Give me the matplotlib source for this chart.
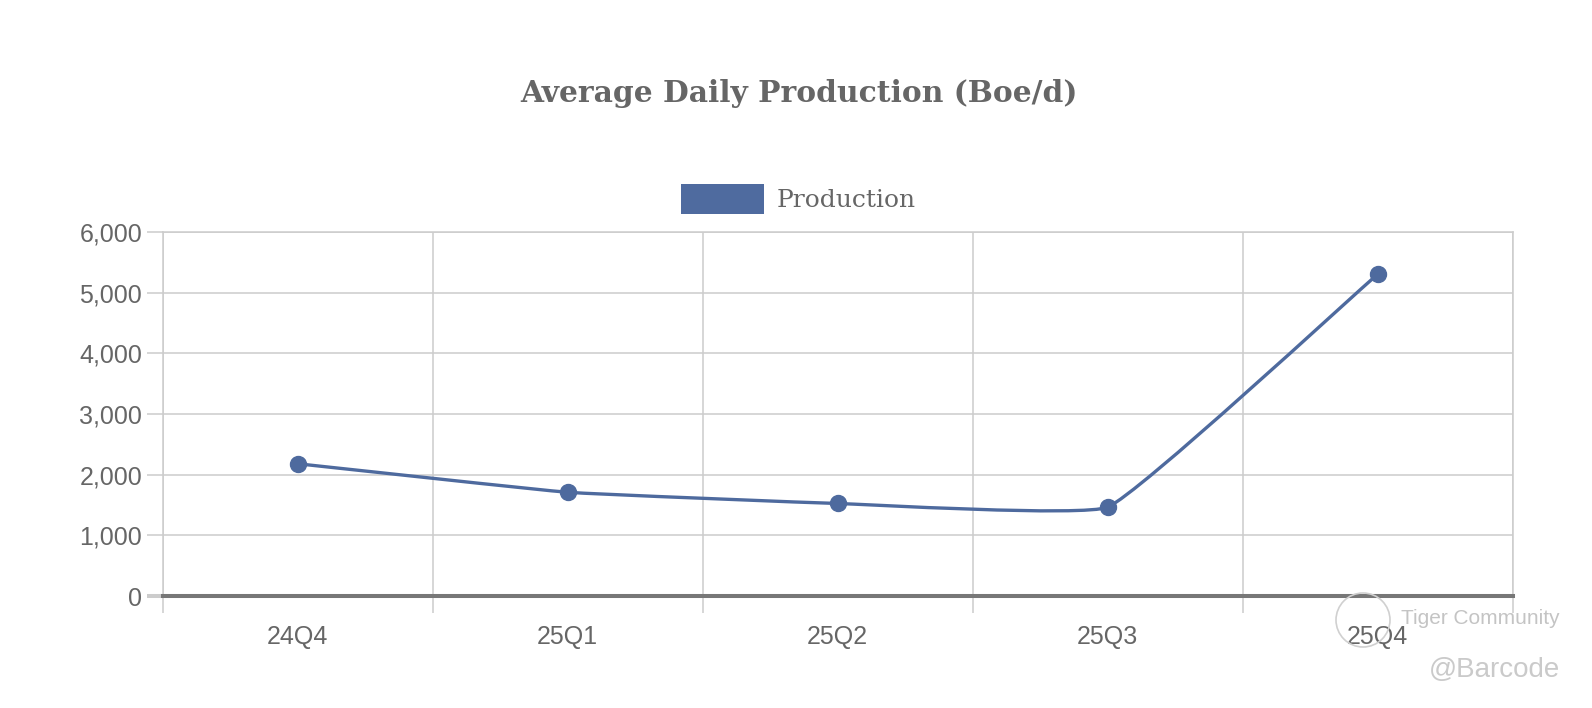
import matplotlib
matplotlib.use("Agg")
import matplotlib.pyplot as plt
from matplotlib.path import Path
from matplotlib.patches import PathPatch, Patch, Ellipse
from matplotlib.ticker import FuncFormatter

# data
quarters = ["24Q4", "25Q1", "25Q2", "25Q3", "25Q4"]
production = [2180, 1710, 1525, 1465, 5305]

LINE_COLOR = "#4e6a9e"
TEXT_COLOR = "#666666"
GRID_COLOR = "#cccccc"

W, H = 1592, 708
fig = plt.figure(figsize=(W / 100, H / 100), dpi=100)
# plot area in pixels: x 162.7 -> 1512.7, y 232 -> 596
ax = fig.add_axes([162.7 / W, 1 - 596 / H, 1350 / W, 364 / H])


def spline_path(xs, ys, sx, sy, tension=0.1):
    # cardinal-ish spline, control points worked out in pixel space
    pts = [(x * sx, y * sy) for x, y in zip(xs, ys)]
    n = len(pts)
    cps = []
    for i in range(n):
        cur = pts[i]
        prev = pts[i - 1] if i > 0 else cur
        nxt = pts[i + 1] if i < n - 1 else cur
        d01 = ((cur[0] - prev[0]) ** 2 + (cur[1] - prev[1]) ** 2) ** 0.5
        d12 = ((nxt[0] - cur[0]) ** 2 + (nxt[1] - cur[1]) ** 2) ** 0.5
        tot = d01 + d12
        s01 = d01 / tot if tot else 0
        s12 = d12 / tot if tot else 0
        fa, fb = tension * s01, tension * s12
        dx, dy = nxt[0] - prev[0], nxt[1] - prev[1]
        cps.append(((cur[0] - fa * dx, cur[1] - fa * dy),
                    (cur[0] + fb * dx, cur[1] + fb * dy)))
    verts = [pts[0]]
    codes = [Path.MOVETO]
    for i in range(1, n):
        verts += [cps[i - 1][1], cps[i][0], pts[i]]
        codes += [Path.CURVE4] * 3
    return Path([(a / sx, b / sy) for a, b in verts], codes)


xpos = list(range(len(quarters)))
path = spline_path(xpos, production, 270.0, 364 / 6000)
ax.add_patch(PathPatch(path, facecolor="none", edgecolor=LINE_COLOR, lw=2.4,
                       capstyle="round", joinstyle="round", zorder=4))
ax.plot(xpos, production, linestyle="none", marker="o", markersize=11.5,
        color=LINE_COLOR, zorder=5, clip_on=False)

ax.set_xlim(-0.5, len(quarters) - 0.5)
ax.set_ylim(0, 6000)

# x axis: ticks on band boundaries, labels at centers
ax.set_xticks([i - 0.5 for i in range(len(quarters) + 1)])
ax.set_xticklabels([])
ax.set_xticks(xpos, minor=True)
ax.set_xticklabels(quarters, minor=True)
ax.tick_params(axis="x", which="major", length=12.3, width=1.1, color=GRID_COLOR)
ax.tick_params(axis="x", which="minor", length=0, pad=21, labelsize=18,
               labelcolor=TEXT_COLOR)

ax.set_yticks(range(0, 6001, 1000))
ax.yaxis.set_major_formatter(FuncFormatter(lambda v, p: f"{int(v):,}"))
ax.tick_params(axis="y", length=11.5, width=1.1, color=GRID_COLOR, pad=3.3,
               labelsize=18, labelcolor=TEXT_COLOR)
zero_tick = ax.yaxis.get_major_ticks()[0]
zero_tick.tick1line.set_color("#777777")
zero_tick.tick1line.set_markeredgewidth(2.9)
for lab in ax.get_xticklabels(minor=True) + ax.get_yticklabels():
    lab.set_family(["Liberation Sans", "DejaVu Sans"])

ax.grid(True, which="major", color=GRID_COLOR, lw=1.1)
ax.set_axisbelow(True)
for side in ["left", "right", "top"]:
    ax.spines[side].set_color(GRID_COLOR)
    ax.spines[side].set_linewidth(1.1)
ax.spines["bottom"].set_color("#777777")
ax.spines["bottom"].set_linewidth(2.9)
ax.spines["bottom"].set_zorder(3)

fig.text(799 / W, 1 - 93.5 / H, "Average Daily Production (Boe/d)",
         ha="center", va="center", fontsize=21.4, fontweight="bold",
         color=TEXT_COLOR, family="DejaVu Serif")

leg = fig.legend(handles=[Patch(facecolor="#4f6b9f", edgecolor="none", label="Production")],
                 loc="center", bbox_to_anchor=(798.5 / W, 1 - 199 / H),
                 frameon=False, handlelength=3.32, handleheight=1.5,
                 handletextpad=0.48, prop={"family": "DejaVu Serif", "size": 18})
for t in leg.get_texts():
    t.set_color(TEXT_COLOR)

# watermark
fig.patches.append(Ellipse((1363 / W, 1 - 620 / H), 54 / W, 54 / H,
                           transform=fig.transFigure, facecolor="none",
                           edgecolor="#d0d0d0", lw=1.2))
fig.text(1401 / W, 1 - 619 / H, "Tiger Community", ha="left", va="center",
         fontsize=15, color="#c4c4c4", family="Liberation Sans")
fig.text(1560 / W, 1 - 670 / H, "@Barcode", ha="right", va="center",
         fontsize=20, color="#cacaca", family="Liberation Sans")

fig.savefig("out.png", dpi=100, facecolor="white")
